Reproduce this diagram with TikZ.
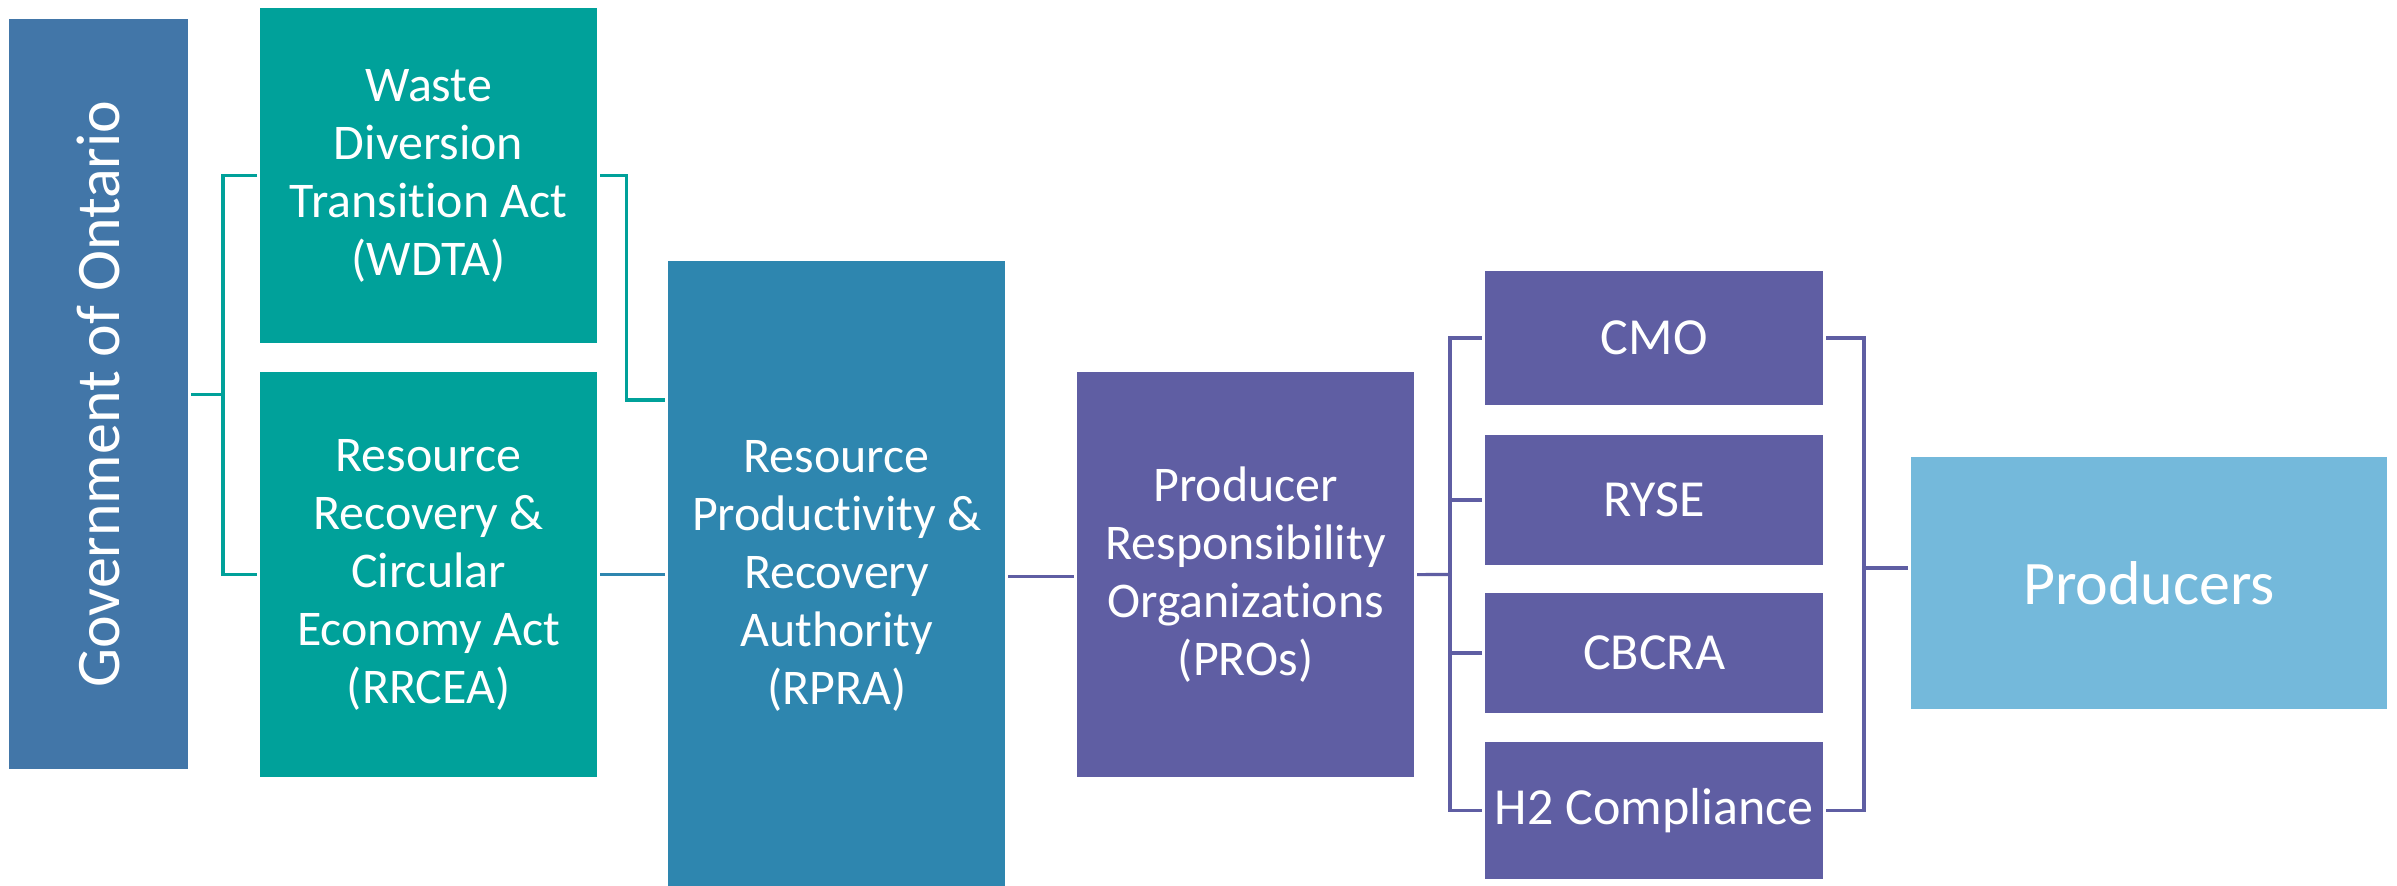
\documentclass[tikz,border=0pt]{standalone}
\usepackage{fontspec}
\setmainfont{Carlito}[Ligatures=NoCommon]
\definecolor{govblue}{RGB}{66,118,168}
\definecolor{actteal}{RGB}{0,161,154}
\definecolor{rprablue}{RGB}{46,134,175}
\definecolor{propurple}{RGB}{95,94,163}
\definecolor{prodblue}{RGB}{116,185,219}

\begin{document}
\begin{tikzpicture}[x=0.01cm, y=-0.01cm,
	box/.style = {rectangle, anchor=north west, inner sep=0pt, outer sep=0.03cm, text=white, align=center, font=\fontsize{14.2}{16.5}\selectfont},
	smallbox/.style = {box, fill=propurple, minimum width=3.38cm, font=\fontsize{14.8}{17}\selectfont},
	link/.style = {line width=0.9pt}]
	\useasboundingbox (0,0) rectangle (2397,886);

	% left column: government and the two acts
	\node [box, fill=govblue, minimum width=1.79cm, minimum height=7.5cm, font=\fontsize{17.6}{20}\selectfont] (gov) at (6,16) {\rotatebox{90}{Government of Ontario}};
	\node [box, fill=actteal, minimum width=3.37cm, minimum height=3.35cm] (wdta) at (257,5) {Waste\\Diversion\\Transition Act\\(WDTA)};
	\node [box, fill=actteal, minimum width=3.37cm, minimum height=4.05cm] (rrcea) at (257,369) {Resource\\Recovery \&\\Circular\\Economy Act\\(RRCEA)};

	% authority and PROs
	\node [box, fill=rprablue, minimum width=3.37cm, minimum height=6.3cm] (rpra) at (665,258) {Resource\\Productivity \&\\Recovery\\Authority\\(RPRA)};
	\node [box, fill=propurple, minimum width=3.37cm, minimum height=4.05cm] (pro) at (1074,369) {Producer\\Responsibility\\Organizations\\(PROs)};

	\node [smallbox, minimum height=1.34cm] (cmo) at (1482,268) {CMO};
	\node [smallbox, minimum height=1.30cm] (ryse) at (1482,432) {RYSE};
	\node [smallbox, minimum height=1.20cm] (cbcra) at (1482,590) {CBCRA};
	\node [smallbox, minimum height=1.37cm] (h2) at (1482,739) {H2 Compliance};

	\node [box, fill=prodblue, minimum width=4.76cm, minimum height=2.52cm, font=\fontsize{17.6}{20}\selectfont] (prod) at (1908,454) {Producers};

	% brackets
	\coordinate (govsplit) at (223,394);
	\coordinate (prosplit) at (1450,574.5);
	\coordinate (prodsplit) at (1864,568);

	\draw [link, actteal] (gov.east) -- (gov.east -| govsplit);
	\draw [link, actteal] (wdta.west) -| (govsplit) |- (rrcea.west);
	\draw [link, actteal] (wdta.east) -- ++(26,0) |- ([yshift=-1.42cm]rpra.north west);
	\draw [link, rprablue] (rrcea.east) -- (rrcea.east -| rpra.west);
	\draw [link, propurple] (rpra.east) -- (rpra.east -| pro.west);

	\draw [link, propurple] (pro.east) -- (prosplit);
	\foreach \n in {cmo,ryse,cbcra,h2}
		\draw [link, propurple] (prosplit) |- (\n.west);

	\draw [link, propurple] (cmo.east) -| (prodsplit);
	\draw [link, propurple] (h2.east) -| (prodsplit) -- (prodsplit -| prod.west);
\end{tikzpicture}
\end{document}
